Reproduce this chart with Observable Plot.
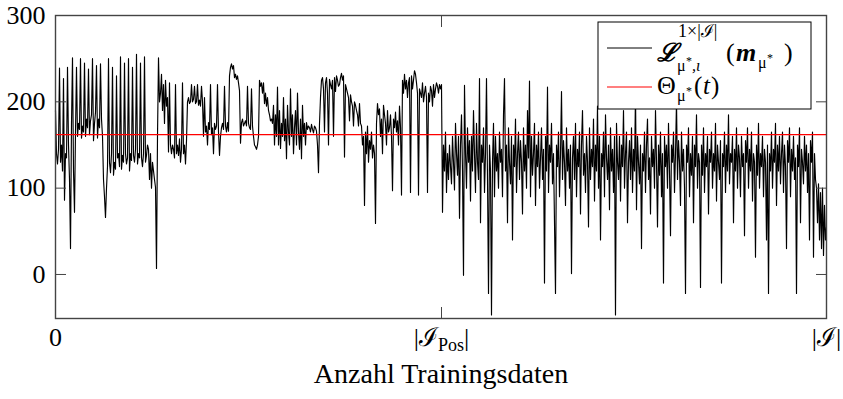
<!DOCTYPE html>
<html><head><meta charset="utf-8">
<script src="https://cdn.jsdelivr.net/npm/d3@7"></script>
<script src="https://cdn.jsdelivr.net/npm/@observablehq/plot@0.6"></script>
<style>body{margin:0;background:#fff} svg{font-family:"Liberation Serif",serif}</style>
</head><body><div id="chart"></div>
<script>
// Loss values, first part (positive training data, 0 .. |I_Pos|)
const lossPos = [
190,140,128,145,239,130,150,120,227,86,
140,135,240,150,110,30,175,251,120,72,
165,240,160,175,168,250,158,172,165,245,
160,180,170,238,162,178,185,250,155,175,
188,242,158,180,170,244,180,160,110,90,
66,100,125,250,130,118,140,240,115,130,
122,230,135,140,125,252,122,138,130,245,
140,128,135,250,120,140,132,240,138,130,
145,255,128,140,135,245,135,125,140,252,
130,138,150,145,110,140,100,130,120,110,
101,7,160,251,200,210,232,190,220,175,
225,195,205,142,222,150,140,150,145,135,
220,140,150,138,157,130,145,222,140,150,
128,155,200,205,198,200,220,200,203,218,
198,200,220,196,202,195,218,200,160,205,
165,172,150,176,168,220,162,170,140,175,
168,172,220,165,138,160,170,175,168,218,
172,165,176,166,230,240,244,238,242,228,
232,226,230,222,213,152,176,180,172,175,
178,172,218,175,170,168,215,172,160,150,
148,145,150,160,225,218,222,210,222,198,
210,195,205,190,185,178,180,175,196,150,
185,160,217,150,190,146,175,160,205,155,
180,134,196,165,150,215,160,185,140,170,
190,150,210,165,145,180,134,196,160,175,
150,176,168,172,170,165,174,168,164,172,
170,166,150,118,175,205,225,228,215,165,
222,228,210,150,226,220,215,225,160,228,
212,230,225,218,220,228,233,225,230,136,
220,215,210,205,178,208,200,195,172,200,
196,190,185,172,198,175,172,150,160,80,
165,140,172,130,155,145,165,135,150,140,
59,175,198,185,192,160,180,140,196,185,
175,150,190,165,170,185,160,97,180,170,
188,165,178,150,195,170,92,225,210,232,
215,225,205,222,228,95,230,215,225,236,
232,222,210,92,215,210,205,222,200,210,
218,205,95,210,200,218,213,195,220,205,
215,222,218,210,220,215
];
// Loss values, second part (negative training data, |I_Pos| .. |I|)
const lossNeg = [
220,72,150,120,165,95,140,110,150,125,
105,160,130,98,175,140,115,160,65,150,
185,120,-1,219,140,100,170,130,155,85,
160,120,190,140,95,175,130,110,227,60,
150,130,170,95,140,227,110,-22,150,120,
-47,130,175,90,160,120,140,100,165,130,
145,90,185,227,120,150,60,170,130,105,
160,40,150,125,180,95,140,165,110,155,
130,70,170,120,150,100,190,135,224,90,
160,115,140,175,80,150,125,165,100,135,
170,110,145,-10,160,120,217,95,150,130,
175,105,140,60,-22,150,125,165,90,140,
212,110,155,130,80,170,120,145,100,150,
1,135,160,110,175,90,145,125,165,70,
150,190,115,140,95,160,130,55,170,110,
145,125,180,85,150,120,195,100,160,40,
140,125,165,90,185,135,110,150,75,170,
120,145,95,160,-47,175,130,110,160,85,
150,125,190,100,140,165,60,130,155,110,
170,95,145,120,210,75,160,130,105,150,
30,140,120,165,95,150,180,110,135,70,
160,125,145,100,190,130,55,150,115,165,
90,140,-10,160,125,150,100,175,120,45,
150,130,165,95,140,200,110,155,130,80,
165,120,145,100,-22,150,130,170,90,140,
115,160,60,150,125,185,100,140,130,-15,
150,115,170,95,140,125,160,70,145,130,
165,100,140,120,175,85,150,130,110,155,
-10,140,125,165,95,150,120,185,105,140,
130,160,60,145,120,170,100,150,135,90,
160,125,140,45,155,130,170,100,145,120,
165,85,140,130,20,150,115,175,100,140,
125,160,90,145,130,40,150,-22,140,120,
165,100,145,130,175,80,150,120,160,105,
140,165,95,150,125,30,155,130,170,90,
145,120,160,110,135,-22,150,125,170,60,
145,130,105,160,120,150,95,140,40,155,
130,165,20,140,110,100,60,105,40,95,
30,100,22,80,40,55
];
const threshold = 162;
const yTicks = [0, 100, 200, 300];
const nTotal = lossPos.length + lossNeg.length;
const xTicks = [0, lossPos.length, nTotal - 1];
const xTickLabels = ["0", "|ℐPos|", "|ℐ|"];
const xLabel = "Anzahl Trainingsdaten";

const data = [...lossPos, ...lossNeg].map((v, i) => ({i, v}));

const chart = Plot.plot({
  width: 843, height: 399,
  marginLeft: 55, marginRight: 17, marginTop: 15, marginBottom: 81,
  style: {fontFamily: "Liberation Serif, serif", fontSize: "26px", color: "#000", background: "#fff", overflow: "visible"},
  x: {domain: [0, nTotal - 1]},
  y: {domain: [-51, 300]},
  marks: [
    Plot.line(data, {x: "i", y: "v", stroke: "#000", strokeWidth: 1.15}),
    Plot.ruleY([threshold], {stroke: "red", strokeWidth: 1.2}),
    Plot.axisY({anchor: "left", ticks: yTicks, tickSize: -11, tickPadding: 21, label: null, stroke: "#444"}),
    Plot.axisY({anchor: "right", ticks: yTicks, tickSize: -11, tickFormat: () => "", label: null, stroke: "#444"}),
    Plot.axisX({anchor: "bottom", ticks: xTicks, tickSize: -11, tickPadding: 20, tickFormat: (d, i) => xTickLabels[i], label: null, stroke: "#444"}),
    Plot.axisX({anchor: "top", ticks: xTicks, tickSize: -11, tickFormat: () => "", label: null, stroke: "#444"}),
    Plot.frame({stroke: "#444", strokeWidth: 1.4}),
    Plot.text([xLabel], {frameAnchor: "bottom", dy: 64, fontSize: 28, fill: "#000"})
  ]
});
document.getElementById("chart").appendChild(chart);

const svg = d3.select(chart);
// subscript for |I_Pos|
svg.selectAll("text").each(function() {
  if (this.textContent === "|ℐPos|") {
    const t = d3.select(this);
    t.text(null);
    t.append("tspan").text("|ℐ");
    t.append("tspan").attr("dy", 5).attr("font-size", 18).text("Pos");
    t.append("tspan").attr("dy", -5).text("|");
  }
});

// legend
const lg = svg.append("g").attr("fill", "#000").attr("text-anchor", "start");
lg.append("rect").attr("x", 598).attr("y", 22).attr("width", 213).attr("height", 87)
  .attr("fill", "#fff").attr("stroke", "#000").attr("stroke-width", 1);
lg.append("line").attr("x1", 607).attr("x2", 652).attr("y1", 48).attr("y2", 48).attr("stroke", "#000").attr("stroke-width", 1);
lg.append("line").attr("x1", 607).attr("x2", 652).attr("y1", 87).attr("y2", 87).attr("stroke", "red").attr("stroke-width", 1.2);

// each legend entry is a single text element, pieces placed with tspans
const entry = (parts) => {
  const t = lg.append("text");
  for (const p of parts) {
    const s = t.append("tspan").attr("x", p.x).attr("y", p.y).attr("font-size", p.s).text(p.t);
    if (p.b) s.attr("font-weight", "bold");
    if (p.i) s.attr("font-style", "italic");
  }
  return t;
};
entry([
  {x: 657, y: 61, s: 25, t: "ℒ", b: true, i: true},
  {x: 678, y: 37, s: 18, t: "1×|ℐ|"},
  {x: 677, y: 71, s: 16, t: "μ"},
  {x: 686, y: 65, s: 12, t: "*"},
  {x: 692, y: 71, s: 16, t: ",ι", i: true},
  {x: 726, y: 61, s: 26, t: "("},
  {x: 736, y: 61, s: 26, t: "m", b: true, i: true},
  {x: 758, y: 68, s: 16, t: "μ"},
  {x: 767, y: 62, s: 12, t: "*"},
  {x: 784, y: 61, s: 26, t: ")"}
]);
entry([
  {x: 657, y: 94, s: 26, t: "Θ"},
  {x: 677, y: 101, s: 16, t: "μ"},
  {x: 686, y: 95, s: 12, t: "*"},
  {x: 694, y: 94, s: 25, t: "("},
  {x: 703, y: 94, s: 25, t: "t", i: true},
  {x: 711, y: 94, s: 25, t: ")"}
]);
</script>
</body></html>
